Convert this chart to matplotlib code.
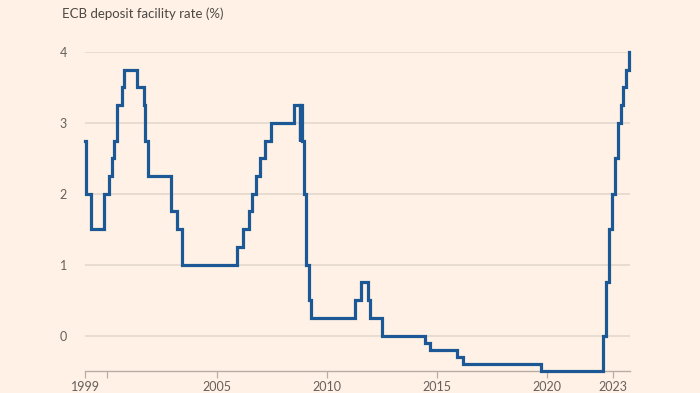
import matplotlib
matplotlib.use("Agg")
import matplotlib.pyplot as plt
import numpy as np
import pandas as pd

# ECB deposit facility rate, change dates and new levels (%)
change_dates = [
    "1999-01-01", "1999-01-22", "1999-04-09", "1999-11-05", "2000-02-04", "2000-03-17",
    "2000-04-28", "2000-06-09", "2000-09-01", "2000-10-06", "2001-05-11", "2001-08-31",
    "2001-09-18", "2001-11-09", "2002-12-06", "2003-03-07", "2003-06-06", "2005-12-06",
    "2006-03-08", "2006-06-15", "2006-08-09", "2006-10-11", "2006-12-13", "2007-03-14",
    "2007-06-13", "2008-07-09", "2008-10-08", "2008-10-09", "2008-11-12", "2008-12-10",
    "2009-01-21", "2009-03-11", "2009-04-08", "2011-04-13", "2011-07-13", "2011-11-09",
    "2011-12-14", "2012-07-11", "2014-06-11", "2014-09-10", "2015-12-09", "2016-03-16",
    "2019-09-18", "2022-07-27", "2022-09-14", "2022-11-02", "2022-12-21", "2023-02-08",
    "2023-03-22", "2023-05-10", "2023-06-21", "2023-08-02", "2023-09-20", "2023-09-30",
]
rates = [
    2.75, 2.00, 1.50, 2.00, 2.25, 2.50,
    2.75, 3.25, 3.50, 3.75, 3.50, 3.25,
    2.75, 2.25, 1.75, 1.50, 1.00, 1.25,
    1.50, 1.75, 2.00, 2.25, 2.50, 2.75,
    3.00, 3.25, 2.75, 3.25, 2.75, 2.00,
    1.00, 0.50, 0.25, 0.50, 0.75, 0.50,
    0.25, 0.00, -0.10, -0.20, -0.30, -0.40,
    -0.50, 0.00, 0.75, 1.50, 2.00, 2.50,
    3.00, 3.25, 3.50, 3.75, 4.00, 4.00,
]
tick_years = [1999, 2000, 2005, 2010, 2015, 2020, 2023]
tick_labels = ["1999", "", "2005", "2010", "2015", "2020", "2023"]
y_ticks = [0, 1, 2, 3, 4]

bg = "#fff1e5"
line_col = "#1d5896"
grid_col = "#e4d8cd"
text_col = "#66605c"

d = pd.to_datetime(change_dates)
x = d.year + (d.dayofyear - 1) / 365.25

fig = plt.figure(figsize=(7, 3.93), dpi=100, facecolor=bg)
ax = fig.add_axes([0.1214, 0.056, 0.7786, 0.8117], facecolor=bg)

ax.step(x, rates, where="post", color=line_col, lw=2.3, solid_joinstyle="miter", clip_on=False, zorder=3)

ax.set_xlim(1999.0, 2023.78)
ax.set_ylim(-0.5, 4.0)
ax.set_yticks(y_ticks)
ax.set_yticklabels([str(v) for v in y_ticks])
ax.set_xticks(tick_years)
ax.set_xticklabels(tick_labels)

for v in y_ticks:
    ax.axhline(v, color=grid_col, lw=1.2, zorder=1)

for s in ["top", "right", "left"]:
    ax.spines[s].set_visible(False)
ax.spines["bottom"].set_color("#b8ada4")
ax.spines["bottom"].set_linewidth(1.0)

ax.tick_params(axis="y", length=0, pad=13, labelsize=9, labelcolor=text_col)
ax.tick_params(axis="x", length=5, width=0.9, color="#b8ada4", pad=2, labelsize=9, labelcolor=text_col)
for lab in ax.get_yticklabels() + ax.get_xticklabels():
    lab.set_family("Lato")

fig.text(62 / 700, 1 - 14 / 393, "ECB deposit facility rate (%)", ha="left", va="center",
         fontsize=9.5, color="#4d4845", family="Lato")

fig.savefig("out.png", dpi=100, facecolor=bg)
